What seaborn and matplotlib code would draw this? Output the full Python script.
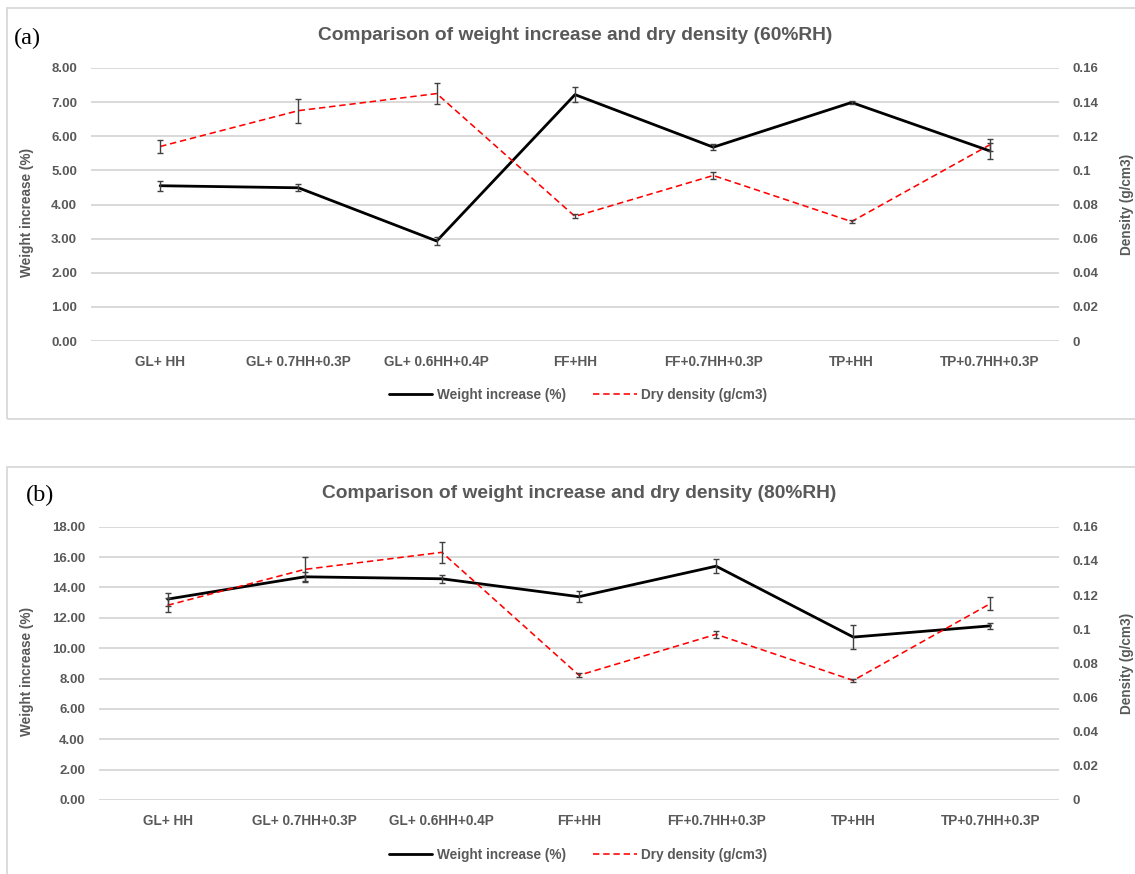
import numpy as np
import matplotlib
matplotlib.use("Agg")
import matplotlib.pyplot as plt
from matplotlib.patches import Rectangle
import seaborn as sns

# ---- data -------------------------------------------------------------
categories = ["GL+ HH", "GL+ 0.7HH+0.3P", "GL+ 0.6HH+0.4P", "FF+HH",
              "FF+0.7HH+0.3P", "TP+HH", "TP+0.7HH+0.3P"]

weight_60 = [4.55, 4.49, 2.93, 7.22, 5.68, 6.99, 5.57]
weight_60_err = [0.14, 0.10, 0.12, 0.22, 0.09, 0.05, 0.23]

weight_80 = [13.23, 14.70, 14.57, 13.39, 15.40, 10.73, 11.47]
weight_80_err = [0.43, 0.32, 0.25, 0.35, 0.44, 0.78, 0.20]

dry_density = [0.114, 0.135, 0.145, 0.073, 0.097, 0.070, 0.115]
dry_density_err = [0.004, 0.007, 0.006, 0.0012, 0.002, 0.0008, 0.0036]

titles = ["Comparison of weight increase and dry density (60%RH)",
          "Comparison of weight increase and dry density (80%RH)"]
panel_tags = ["(a)", "(b)"]
left_ticks_60 = [0, 1, 2, 3, 4, 5, 6, 7, 8]
left_ticks_80 = [0, 2, 4, 6, 8, 10, 12, 14, 16, 18]
right_ticks = [0, 0.02, 0.04, 0.06, 0.08, 0.1, 0.12, 0.14, 0.16]

# ---- style ------------------------------------------------------------
sns.set_theme(style="white")
plt.rcParams["font.family"] = ["Liberation Sans", "DejaVu Sans"]

W, H = 1135, 874
fig = plt.figure(figsize=(W / 100, H / 100), dpi=100)

TXT = "#595959"
GRID = "#d9d9d9"
ERR = "#404040"


def px_axes(x0, y0, x1, y1):
    return fig.add_axes([x0 / W, 1 - y1 / H, (x1 - x0) / W, (y1 - y0) / H])


def draw_panel(box, plot, weight, weight_err, yticks, title, tag, title_y,
               tag_xy, legend_y):
    # light frame around the chart block
    bx0, by0, bx1, by1 = box
    fig.add_artist(Rectangle((bx0 / W, 1 - by1 / H), (bx1 - bx0) / W,
                             (by1 - by0) / H, transform=fig.transFigure,
                             fill=False, ec=GRID, lw=1.3))

    ax = px_axes(*plot)
    ax2 = ax.twinx()
    x = np.arange(len(categories))

    sns.lineplot(x=x, y=weight, ax=ax, color="black", lw=2.0,
                 label="Weight increase (%)", legend=False, zorder=3)
    ax.errorbar(x, weight, yerr=weight_err, fmt="none", ecolor=ERR,
                elinewidth=1.0, capsize=2.2, capthick=1.0, zorder=4)

    sns.lineplot(x=x, y=dry_density, ax=ax2, color="#ff0000", lw=1.15,
                 linestyle=(0, (4, 2.4)), label="Dry density (g/cm3)",
                 legend=False, zorder=3)
    ax2.errorbar(x, dry_density, yerr=dry_density_err, fmt="none",
                 ecolor=ERR, elinewidth=1.0, capsize=2.2, capthick=1.0,
                 zorder=4)

    ax.set_xlim(-0.5, len(categories) - 0.5)
    ax.set_ylim(yticks[0], yticks[-1])
    ax2.set_ylim(right_ticks[0], right_ticks[-1])

    ax.set_yticks(yticks)
    ax.set_yticklabels([f"{v:.2f}" for v in yticks])
    ax2.set_yticks(right_ticks)
    ax2.set_yticklabels([f"{v:g}" for v in right_ticks])
    ax.set_xticks(x)
    ax.set_xticklabels(categories)

    ax.yaxis.grid(True, color=GRID, lw=1.4)
    ax.xaxis.grid(False)
    ax.set_axisbelow(True)
    for a in (ax, ax2):
        for s in a.spines.values():
            s.set_visible(False)
        a.patch.set_alpha(0)
    ax.tick_params(axis="y", length=0, pad=10, labelsize=9.5,
                   labelcolor=TXT)
    ax.tick_params(axis="x", length=0, pad=10, labelsize=9.8,
                   labelcolor=TXT)
    ax2.tick_params(axis="y", length=0, pad=10, labelsize=9.5,
                    labelcolor=TXT)
    for lab in ax.get_yticklabels() + ax.get_xticklabels() + \
            ax2.get_yticklabels():
        lab.set_fontweight("bold")

    x0, y0, x1, y1 = plot
    ax.set_ylabel("Weight increase (%)", fontsize=9.8, color=TXT,
                  fontweight="bold")
    ax.yaxis.set_label_coords((34 - x0) / (x1 - x0), 0.47)
    ax2.set_ylabel("Density (g/cm3)", fontsize=9.8, color=TXT,
                   fontweight="bold", rotation=90)
    ax2.yaxis.set_label_coords((1120 - x0) / (x1 - x0), 0.5)

    fig.text((x0 + x1) / 2 / W, 1 - title_y / H, title, ha="center",
             va="center", fontsize=13.8, fontweight="bold", color=TXT)
    fig.text(tag_xy[0] / W, 1 - tag_xy[1] / H, tag, ha="left",
             va="center", fontsize=17.5, color="black",
             family=["Liberation Serif", "DejaVu Serif"])

    handles = ax.get_lines()[:1] + ax2.get_lines()[:1]
    leg = fig.legend(handles, ["Weight increase (%)", "Dry density (g/cm3)"],
                     loc="center", bbox_to_anchor=(578 / W, 1 - legend_y / H),
                     ncol=2, frameon=False, handlelength=3.2,
                     handletextpad=0.35, columnspacing=2.0,
                     prop={"size": 9.8, "weight": "bold"})
    for t in leg.get_texts():
        t.set_color(TXT)


draw_panel(box=(7, 8, 1145, 419), plot=(91, 68, 1059, 341),
           weight=weight_60, weight_err=weight_60_err, yticks=left_ticks_60,
           title=titles[0], tag=panel_tags[0], title_y=35, tag_xy=(14, 38),
           legend_y=395)

draw_panel(box=(7, 467.5, 1145, 885), plot=(99, 526.7, 1059, 800),
           weight=weight_80, weight_err=weight_80_err, yticks=left_ticks_80,
           title=titles[1], tag=panel_tags[1], title_y=494, tag_xy=(26, 495),
           legend_y=855)

fig.savefig("out.png", dpi=100)
